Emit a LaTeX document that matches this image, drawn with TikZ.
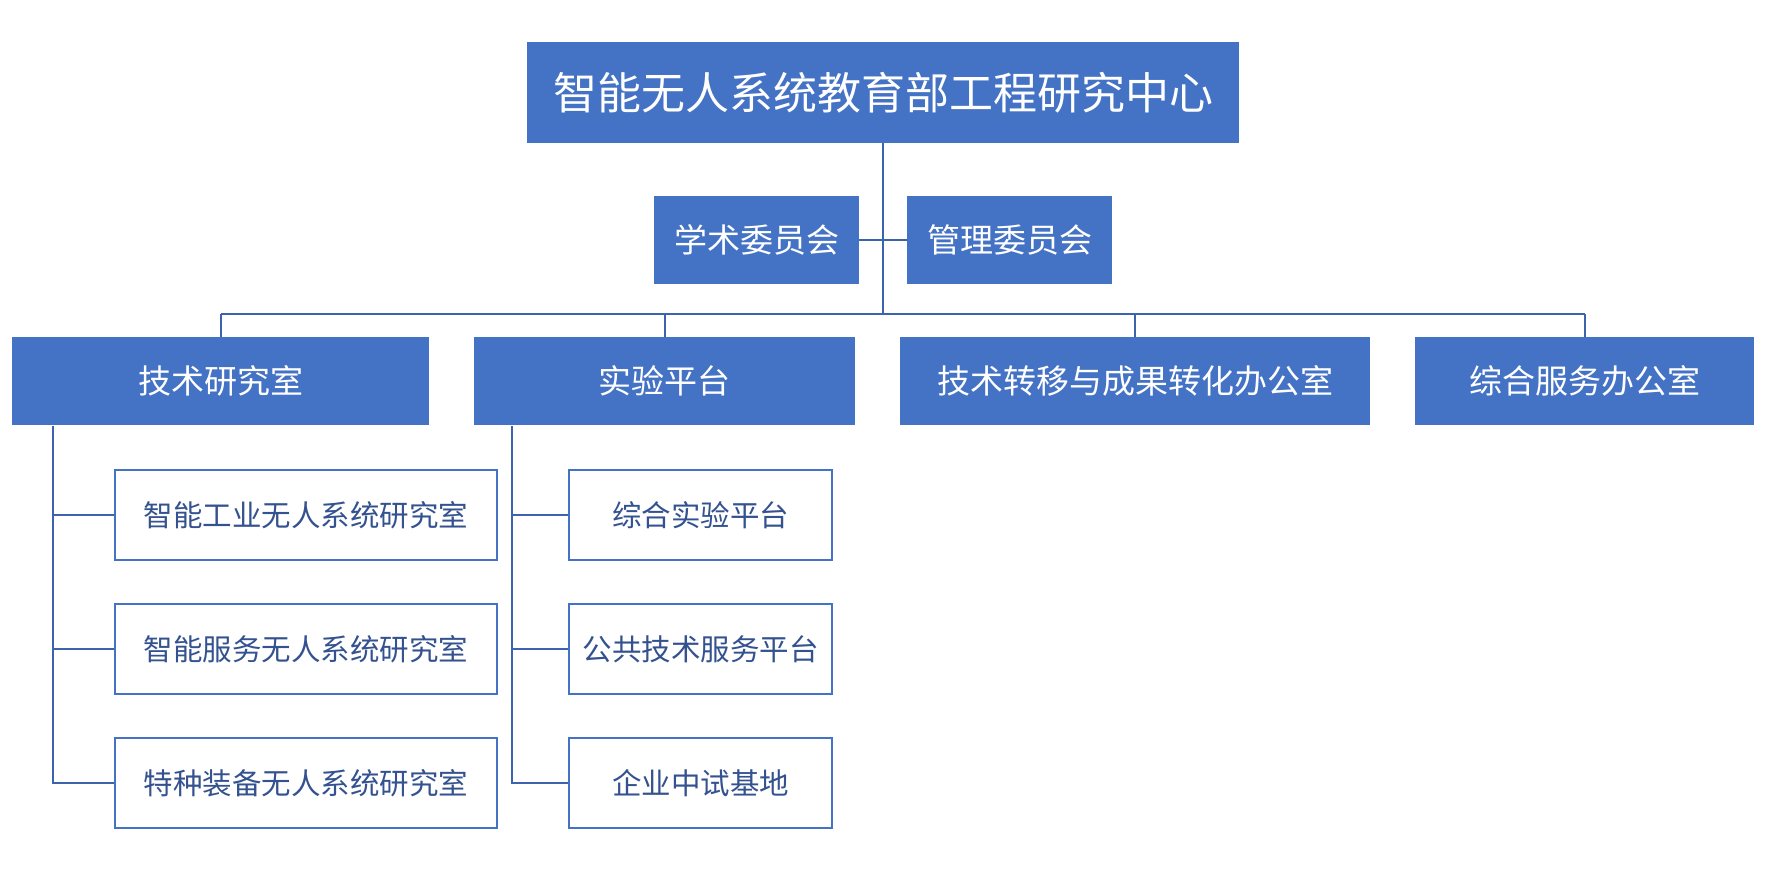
\documentclass[tikz,border=0pt]{standalone}
\usepackage{fontspec}
\setmainfont{Noto Sans CJK SC}
\usepackage{tikz}
\usetikzlibrary{positioning, calc}
\definecolor{boxblue}{HTML}{4472C4}
\definecolor{linkblue}{HTML}{3E63AE}
\definecolor{textblue}{HTML}{34528F}

\begin{document}
\begin{tikzpicture}[x=1pt, y=-1pt,
    every node/.style={rectangle, inner sep=0pt, align=center},
    solidbox/.style={fill=boxblue, text=white, font=\fontsize{33}{36}\selectfont},
    framebox/.style={draw=boxblue, line width=2pt, fill=white, text=textblue,
        minimum width=#1, minimum height=90pt, font=\fontsize{29.5}{32}\selectfont},
    link/.style={draw=linkblue, line width=2pt}]
    \useasboundingbox (0,0) rectangle (1766,870);

    \node[solidbox, minimum width=712pt, minimum height=101pt,
        font=\fontsize{44}{48}\selectfont] (top) at (883,92.5) {智能无人系统教育部工程研究中心};
    \node[solidbox, minimum width=205pt, minimum height=88pt] (xs) at (756.5,240) {学术委员会};
    \node[solidbox, minimum width=205pt, minimum height=88pt] (gl) at (1009.5,240) {管理委员会};

    \node[solidbox, minimum width=417pt, minimum height=88pt] (jsy) at (220.5,381) {技术研究室};
    \node[solidbox, minimum width=381pt, minimum height=88pt] (syp) at (664.5,381) {实验平台};
    \node[solidbox, minimum width=470pt, minimum height=88pt] (zy) at (1135,381) {技术转移与成果转化办公室};
    \node[solidbox, minimum width=339pt, minimum height=88pt] (zh) at (1584.5,381) {综合服务办公室};

    \node[framebox=382pt] (a1) at (306,515) {智能工业无人系统研究室};
    \node[framebox=382pt] (a2) at (306,649) {智能服务无人系统研究室};
    \node[framebox=382pt] (a3) at (306,783) {特种装备无人系统研究室};
    \node[framebox=263pt] (b1) at (700.5,515) {综合实验平台};
    \node[framebox=263pt] (b2) at (700.5,649) {公共技术服务平台};
    \node[framebox=263pt] (b3) at (700.5,783) {企业中试基地};

    \coordinate (bus) at (883,314);
    \coordinate (ltrunk) at (53,426);
    \coordinate (rtrunk) at (512,426);

    \draw[link] (top.south) -- (bus);
    \draw[link] (xs.east) -- (gl.west);
    \draw[link] (bus -| jsy.north) -- (bus -| zh.north);
    \foreach \n in {jsy, syp, zy, zh}
        \draw[link] (bus -| \n.north) -- (\n.north);

    \draw[link] (ltrunk) |- (a3.west);
    \draw[link] (rtrunk) |- (b3.west);
    \foreach \i in {1,2} {
        \draw[link] (ltrunk |- a\i.west) -- (a\i.west);
        \draw[link] (rtrunk |- b\i.west) -- (b\i.west);
    }
\end{tikzpicture}
\end{document}
